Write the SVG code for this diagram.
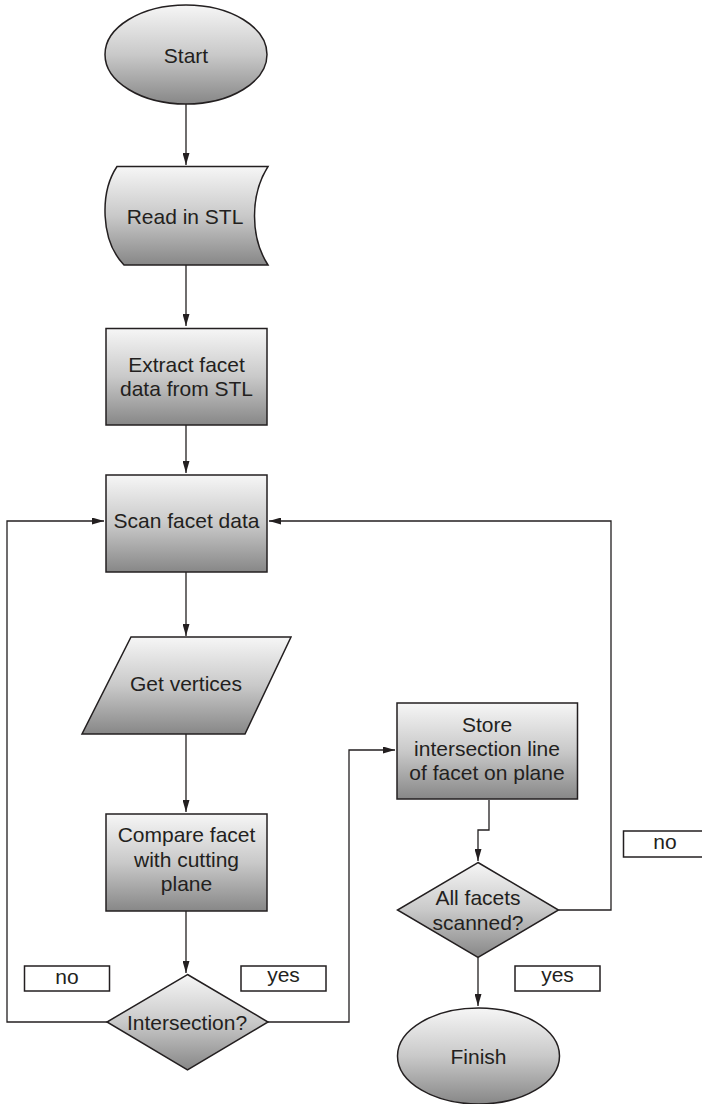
<svg xmlns="http://www.w3.org/2000/svg" width="702" height="1104" viewBox="0 0 702 1104">
<style>
.shape{fill:url(#g);stroke:#231f20;stroke-width:1.5}
.lbl{fill:#fff;stroke:#231f20;stroke-width:1.5}
.t{font-family:"Liberation Sans",Arial,sans-serif;font-size:21px;fill:#231f20;text-anchor:middle}
.c{fill:none;stroke:#231f20;stroke-width:1.3}
</style>
<defs>
<linearGradient id="g" x1="0" y1="0" x2="0" y2="1">
<stop offset="0" stop-color="#f6f6f6"/>
<stop offset="0.5" stop-color="#c9c9c9"/>
<stop offset="1" stop-color="#878787"/>
</linearGradient>
<marker id="a" markerUnits="userSpaceOnUse" markerWidth="12" markerHeight="7" refX="12" refY="3.5" orient="auto">
<path d="M0,0 L12,3.5 L0,7 Z" fill="#231f20"/>
</marker>
</defs>
<g id="connectors">
<path class="c" d="M186,104 V165" marker-end="url(#a)"/>
<path class="c" d="M186,265 V326" marker-end="url(#a)"/>
<path class="c" d="M186,425 V473" marker-end="url(#a)"/>
<path class="c" d="M186,572 V636" marker-end="url(#a)"/>
<path class="c" d="M186,734 V812" marker-end="url(#a)"/>
<path class="c" d="M186,911 V973" marker-end="url(#a)"/>
<path class="c" d="M107,1022 H7 V521 H104" marker-end="url(#a)"/>
<path class="c" d="M268,1022 H349 V750 H395" marker-end="url(#a)"/>
<path class="c" d="M489,800 V830 H478 V861" marker-end="url(#a)"/>
<path class="c" d="M558.5,910 H611 V521 H269" marker-end="url(#a)"/>
<path class="c" d="M478,957.5 V1006" marker-end="url(#a)"/>
</g>
<g id="start">
<ellipse class="shape" cx="186" cy="54.5" rx="81" ry="49.5"/>
<text class="t" x="186" y="63">Start</text>
</g>
<g id="read">
<path class="shape" d="M117,166.5 H268 C250,195 250,237 268,265 H124 C100,240 100,192 117,166.5 Z"/>
<text class="t" x="185" y="224">Read in STL</text>
</g>
<g id="extract">
<rect class="shape" x="106" y="328.5" width="161" height="96.5"/>
<text class="t" x="186.5" y="372">Extract facet</text>
<text class="t" x="186.5" y="396">data from STL</text>
</g>
<g id="scan">
<rect class="shape" x="106" y="475" width="161" height="97"/>
<text class="t" x="186.5" y="528">Scan facet data</text>
</g>
<g id="get">
<polygon class="shape" points="131,637 291,637 245,734 82,734"/>
<text class="t" x="186" y="690.5">Get vertices</text>
</g>
<g id="compare">
<rect class="shape" x="106" y="814" width="161" height="97"/>
<text class="t" x="186.5" y="842">Compare facet</text>
<text class="t" x="186.5" y="867">with cutting</text>
<text class="t" x="186.5" y="891">plane</text>
</g>
<g id="intersection">
<polygon class="shape" points="187.5,974.5 268,1022 187.5,1070 107,1022"/>
<text class="t" x="187" y="1029.5">Intersection?</text>
</g>
<g id="store">
<rect class="shape" x="397" y="703" width="180.5" height="96"/>
<text class="t" x="487" y="732">Store</text>
<text class="t" x="487" y="756">intersection line</text>
<text class="t" x="487" y="780">of facet on plane</text>
</g>
<g id="allscanned">
<polygon class="shape" points="478,862.5 558.5,910 478,957.5 397.5,910"/>
<text class="t" x="478" y="905">All facets</text>
<text class="t" x="478" y="930">scanned?</text>
</g>
<g id="finish">
<ellipse class="shape" cx="478.5" cy="1056" rx="81" ry="48"/>
<text class="t" x="478.5" y="1063.5">Finish</text>
</g>
<g id="label-no-left">
<rect class="lbl" x="24.5" y="966" width="85" height="25"/>
<text class="t" x="67" y="983.5">no</text>
</g>
<g id="label-yes-left">
<rect class="lbl" x="241" y="966" width="85" height="25"/>
<text class="t" x="283.5" y="982">yes</text>
</g>
<g id="label-no-right">
<rect class="lbl" x="623.5" y="831" width="85" height="26"/>
<text class="t" x="665" y="849">no</text>
</g>
<g id="label-yes-right">
<rect class="lbl" x="515" y="966" width="85" height="25"/>
<text class="t" x="557.5" y="982">yes</text>
</g>
</svg>
